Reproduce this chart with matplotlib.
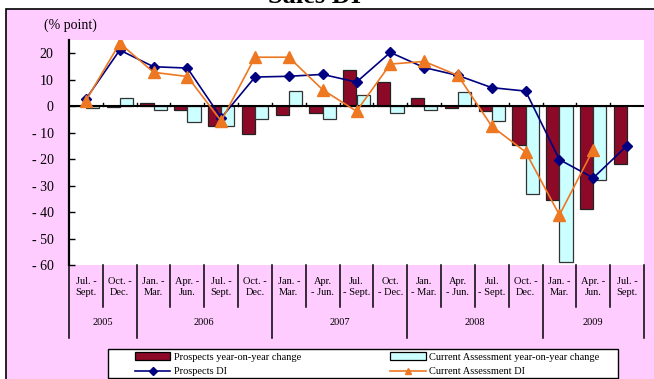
import matplotlib
matplotlib.use("Agg")
import matplotlib.pyplot as plt
from matplotlib.patches import Rectangle
from matplotlib.lines import Line2D
from matplotlib.ticker import FixedLocator, FuncFormatter

plt.rcParams['font.family'] = ['Liberation Serif', 'DejaVu Serif']

# Quarter labels and the years they belong to
quarters = ["Jul. -\nSept.", "Oct. -\nDec.",
            "Jan. -\nMar.", "Apr. -\nJun.", "Jul. -\nSept.", "Oct. -\nDec.",
            "Jan. -\nMar.", "Apr.\n- Jun.", "Jul.\n- Sept.", "Oct.\n- Dec.",
            "Jan.\n- Mar.", "Apr.\n- Jun.", "Jul.\n- Sept.", "Oct. -\nDec.",
            "Jan. -\nMar.", "Apr. -\nJun.", "Jul. -\nSept."]
years = ["2005", "2006", "2007", "2008", "2009"]
quarters_per_year = [2, 4, 4, 4, 3]

# Series values (% point)
prospects_yoy = [0.0, -0.4, 1.3, -1.6, -7.5, -10.4, -3.5, -2.6, 13.5, 9.3,
                 3.2, -0.7, -2.0, -14.8, -35.5, -38.9, -22.0]
current_yoy = [-0.5, 3.1, -1.3, -6.0, -7.4, -5.0, 5.6, -5.0, 4.1, -2.6,
               -1.6, 5.3, -5.7, -33.2, -58.7, -28.0, None]
prospects_di = [2.7, 21.2, 14.9, 14.4, -4.4, 11.0, 11.3, 12.0, 9.1, 20.3,
                14.6, 11.6, 7.0, 5.7, -20.2, -27.1, -14.9]
current_di = [2.1, 23.8, 12.8, 11.2, -5.6, 18.5, 18.5, 6.2, -1.9, 15.9,
              16.9, 11.6, -7.6, -17.3, -41.1, -16.4, None]

RED = "#8C0A28"
CYAN = "#CCFFFF"
NAVY = "#000080"
ORANGE = "#EE7722"
PINK = "#FFCCFF"

W, H = 654, 379
fig = plt.figure(figsize=(W / 100, H / 100), dpi=100)
fig.patch.set_facecolor("white")

# pink chart area with black border
fig.add_artist(Rectangle((6 / W, -0.1), 1.2, 1 - 9.3 / H + 0.1,
                         transform=fig.transFigure, facecolor=PINK,
                         edgecolor="black", linewidth=1.2, zorder=0))

fig.text(315 / W, 1 - 3 / H, "Sales DI", ha="center", va="baseline",
         fontsize=19, fontweight="bold")
fig.text(70 / W, 1 - 25 / H, "(% point)", ha="center", va="center",
         fontsize=10)

ax = fig.add_axes([69 / W, 1 - 265 / H, 575 / W, 225 / H])
ax.set_facecolor("white")

n = len(quarters)
x = list(range(n))
bw = 0.39

px = [i - bw / 2 for i in x]
ax.bar(px, prospects_yoy, width=bw, color=RED, edgecolor="#222222",
       linewidth=0.9, zorder=2)
cx = [i + bw / 2 for i, v in zip(x, current_yoy) if v is not None]
cv = [v for v in current_yoy if v is not None]
ax.bar(cx, cv, width=bw, color=CYAN, edgecolor="#333333",
       linewidth=0.9, zorder=2)

ax.axhline(0, color="black", linewidth=1.5, zorder=3)

ax.plot(x, prospects_di, color=NAVY, linewidth=1.2, marker="D",
        markersize=5, markerfacecolor=NAVY, markeredgecolor=NAVY, zorder=4)
cdx = [i for i, v in zip(x, current_di) if v is not None]
cdv = [v for v in current_di if v is not None]
ax.plot(cdx, cdv, color=ORANGE, linewidth=1.2, marker="^",
        markersize=8, markerfacecolor=ORANGE, markeredgecolor=ORANGE,
        zorder=5)

ax.set_xlim(-0.5, n - 0.5)
ax.set_ylim(-60, 25)

for s in ("top", "right", "bottom"):
    ax.spines[s].set_visible(False)
ax.spines["left"].set_linewidth(1.6)

ax.yaxis.set_major_locator(FixedLocator(list(range(-60, 21, 10))))
ax.yaxis.set_major_formatter(
    FuncFormatter(lambda v, p: f"- {abs(int(v))}" if v < 0 else f"{int(v)}"))
ax.tick_params(axis="y", direction="in", length=4, width=1, pad=11,
               labelsize=10)
ax.set_xticks([])

# small ticks on the zero line at category boundaries
xt = ax.get_xaxis_transform()
for k in range(1, n):
    ax.plot([k - 0.5, k - 0.5], [0, 1.2], color="black", linewidth=1,
            zorder=3)

# category axis: quarter labels, year labels and separators
short_y, long_y = -42 / 225, -73 / 225
year_starts = [0]
for q in quarters_per_year:
    year_starts.append(year_starts[-1] + q)
for k in range(n + 1):
    y1 = long_y if k in year_starts else short_y
    ax.plot([k - 0.5, k - 0.5], [0, y1], transform=xt, color="black",
            linewidth=1.1, clip_on=False)
for i, lab in enumerate(quarters):
    ax.text(i, -21.7 / 225, lab, transform=xt, ha="center", va="center",
            fontsize=7.5, linespacing=1.25)
for j, yr in enumerate(years):
    mid = (year_starts[j] + year_starts[j + 1]) / 2 - 0.5
    ax.text(mid, -57.7 / 225, yr, transform=xt, ha="center", va="center",
            fontsize=7.5)

# legend
fig.add_artist(Rectangle((108 / W, 1 - 378 / H), 510 / W, 28.7 / H,
                         transform=fig.transFigure, facecolor="white",
                         edgecolor="black", linewidth=1.0, zorder=1))
handles = [
    Rectangle((0, 0), 1, 1, facecolor=RED, edgecolor="black", linewidth=0.9),
    Line2D([], [], color=NAVY, marker="D", markersize=4, linewidth=1.2),
    Rectangle((0, 0), 1, 1, facecolor=CYAN, edgecolor="black", linewidth=0.9),
    Line2D([], [], color=ORANGE, marker="^", markersize=5, linewidth=1.2),
]
labels = ["Prospects year-on-year change", "Prospects DI",
          "Current Assessment year-on-year change", "Current Assessment DI"]
leg = fig.legend(handles, labels, ncol=2, loc="upper left",
                 bbox_to_anchor=(135 / W, 1 - 352.5 / H), frameon=False,
                 fontsize=7.5, borderpad=0, borderaxespad=0,
                 handlelength=3.4, handleheight=0.7, handletextpad=0.3,
                 columnspacing=8.6, labelspacing=0.5)
leg.set_zorder(2)

fig.savefig("out.png", dpi=100, facecolor="white")
